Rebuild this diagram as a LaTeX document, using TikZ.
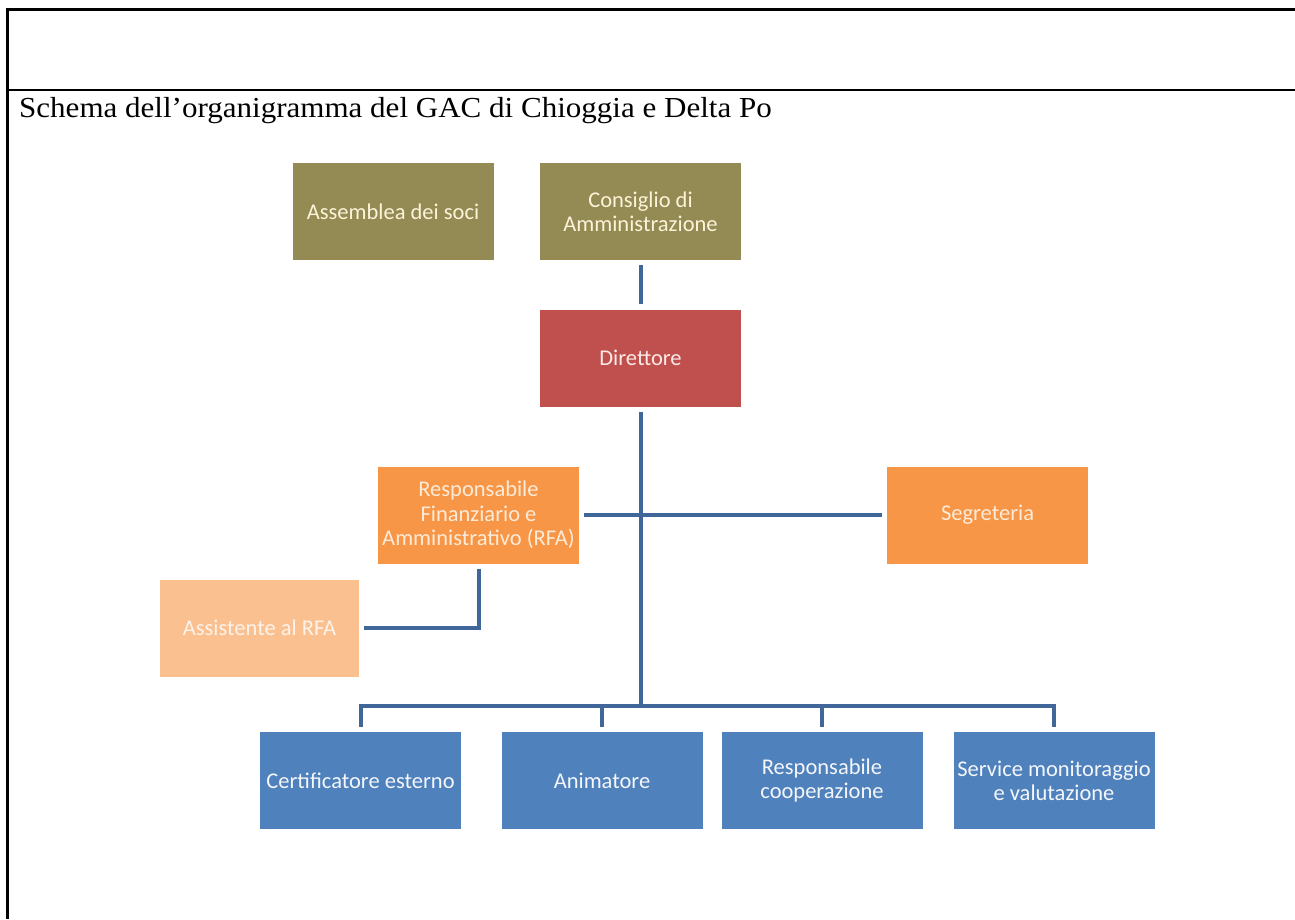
\documentclass[tikz,border=0pt]{standalone}
\usepackage{fontspec}
\setmainfont{Liberation Serif}
\newfontfamily\boxfont{Carlito}
\newfontfamily\titlefont[FakeStretch=1.07]{Liberation Serif}
\definecolor{olivebox}{HTML}{948A54}
\definecolor{redbox}{HTML}{C0504D}
\definecolor{orangebox}{HTML}{F79646}
\definecolor{lightorangebox}{HTML}{FAC090}
\definecolor{bluebox}{HTML}{4F81BD}
\definecolor{connblue}{HTML}{41669A}
\definecolor{creamtext}{HTML}{FCF3D9}
\definecolor{pinktext}{HTML}{FDE9E7}
\definecolor{orangetext}{HTML}{FDEBD9}
\definecolor{paletext}{HTML}{FDF3EA}
\definecolor{bluetext}{HTML}{F4F6FA}
\begin{document}
\begin{tikzpicture}[x=1pt,y=-1pt,
  box/.style={rectangle, minimum width=201pt, minimum height=97pt, inner sep=2pt,
    align=center, font=\boxfont\fontsize{22.5}{24.3}\selectfont},
  olivestyle/.style={box, fill=olivebox, text=creamtext},
  redstyle/.style={box, fill=redbox, text=pinktext},
  orangestyle/.style={box, fill=orangebox, text=orangetext},
  palestyle/.style={box, fill=lightorangebox, text=paletext, minimum width=199pt},
  bluestyle/.style={box, fill=bluebox, text=bluetext},
  link/.style={draw=connblue, line width=4pt, line join=miter},
  frameline/.style={draw=black, line width=2.6pt}
]
\useasboundingbox (0,0) rectangle (1295,919);
% frame
\draw[frameline, line width=3pt] (6.2,9.5) -- (1295,9.5);
\draw[frameline] (7.5,8) -- (7.5,919);
\draw[frameline] (6.2,90) -- (1295,90);
% title
\node[anchor=base west, inner sep=0pt, font=\titlefont\fontsize{29}{33}\selectfont] (title) at (19,117)
  {Schema dell’organigramma del GAC di Chioggia e Delta Po};
% boxes
\node[olivestyle] (asm) at (393,211.5) {Assemblea dei soci};
\node[olivestyle] (cons) at (640.5,211.5) {Consiglio di\\Amministrazione};
\node[redstyle] (dir) at (640.5,358) {Direttore};
\node[orangestyle] (rfa) at (478.5,515) {Responsabile\\Finanziario e\\Amministrativo (RFA)};
\node[orangestyle] (seg) at (987.5,515) {Segreteria};
\node[palestyle] (ass) at (259.5,628) {Assistente al RFA};
\node[bluestyle] (cert) at (360.5,780.5) {Certificatore esterno};
\node[bluestyle] (anim) at (602,780.5) {Animatore};
\node[bluestyle] (coop) at (822,780.5) {Responsabile\\cooperazione};
\node[bluestyle] (serv) at (1054,780.5) {Service monitoraggio\\e valutazione};
% connectors
\coordinate (busc) at (640.5,706);
\draw[link, shorten <=5pt, shorten >=5pt] (cons) -- (dir);
\draw[link, shorten <=5pt] (dir.south) -- (busc);
\draw[link, shorten <=5pt, shorten >=5pt] (rfa) -- (seg);
\draw[link] ([yshift=-5pt]rfa.south) |- ([xshift=5pt]ass.east);
\draw[link] ([yshift=5pt]cert.north) |- (busc) -| ([yshift=5pt]serv.north);
\draw[link] ([yshift=5pt]anim.north) -- (anim.north |- busc);
\draw[link] ([yshift=5pt]coop.north) -- (coop.north |- busc);
\end{tikzpicture}
\end{document}
